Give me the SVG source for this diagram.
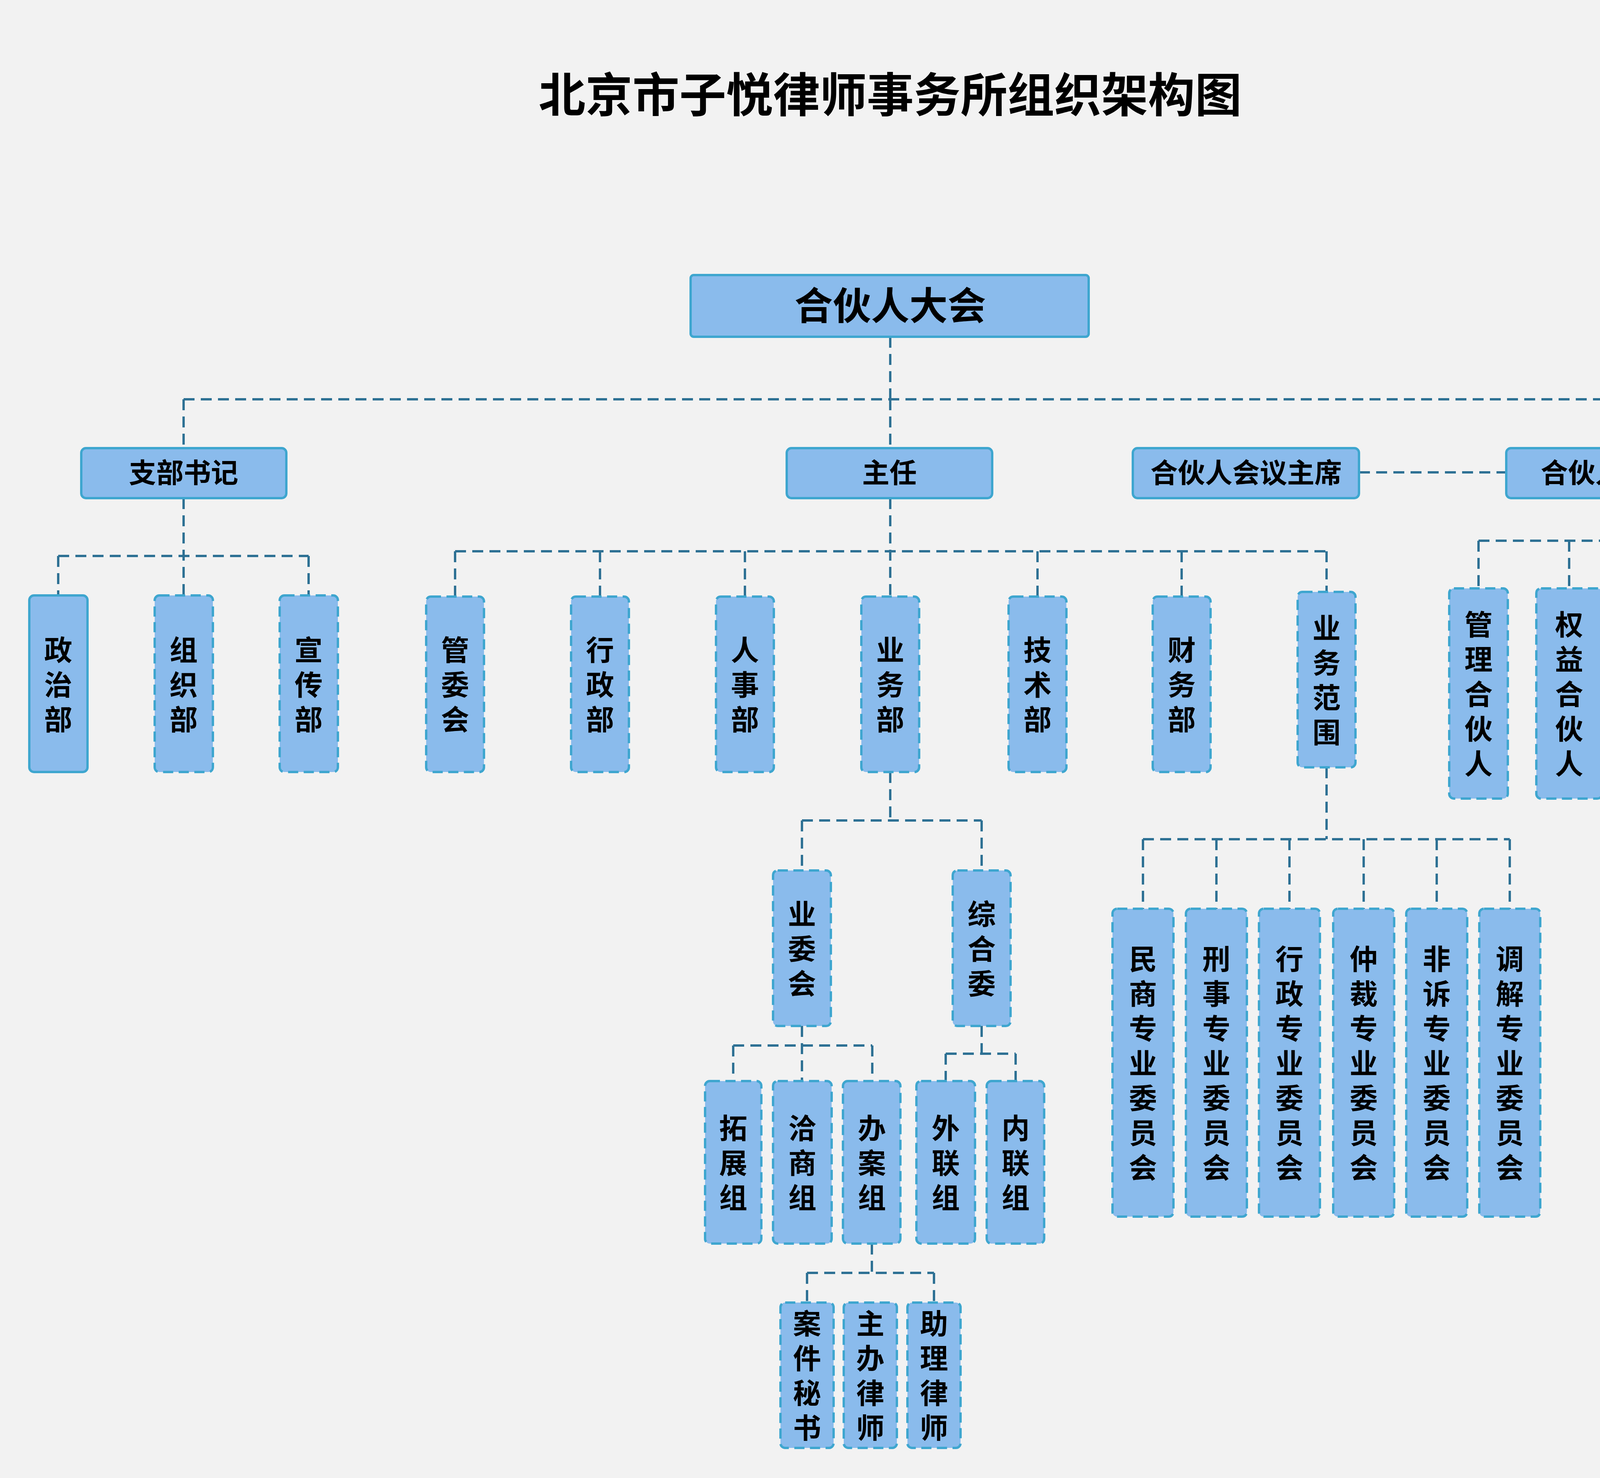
<svg xmlns="http://www.w3.org/2000/svg" width="4659" height="3783" viewBox="0 0 4659 3783">
<style>
.bx{fill:#8ABBEC;stroke:#3EA6CF;stroke-width:6}
.ds{stroke-dasharray:26 14}
.t{font-family:"Noto Sans CJK SC","Noto Sans",sans-serif;font-weight:700;fill:#000;text-anchor:middle}
.v{font-size:72px}
.h{font-size:70px}
.c{fill:none;stroke:#2E7194;stroke-width:6;stroke-dasharray:28 16}
</style>
<rect width="4659" height="3783" fill="#F2F2F2"/>
<text class="t" x="2279" y="287" font-size="120">北京市子悦律师事务所组织架构图</text>
<g id="connectors">
<path class="c" d="M2279 862V1022M470 1022H4118M470 1022V1147M2279 1022V1147M4118 1022V1147"/>
<path class="c" d="M3479 1209H3856"/>
<path class="c" d="M470 1275V1524M149 1423H790M149 1423V1524M790 1423V1524"/>
<path class="c" d="M2279 1275V1527M1165 1411H3396M1165 1411V1527M1536 1411V1527M1907 1411V1527M2656 1411V1527M3025 1411V1527M3396 1411V1515"/>
<path class="c" d="M4118 1275V1384M3785 1384H4501M3785 1384V1506M4017 1384V1506M4260 1384V1506M4501 1384V1506"/>
<path class="c" d="M2279 1976V2100M2053 2100H2513M2053 2100V2228M2513 2100V2228"/>
<path class="c" d="M2053 2626V2767M1877 2676H2233M1877 2676V2767M2233 2676V2767"/>
<path class="c" d="M2513 2626V2697M2421 2697H2600M2421 2697V2767M2600 2697V2767"/>
<path class="c" d="M2232 3183V3258M2066 3258H2391M2066 3258V3334M2391 3258V3334"/>
<path class="c" d="M3396 1964V2148M2926 2148H3865M2926 2148V2326M3114 2148V2326M3301 2148V2326M3491 2148V2326M3678 2148V2326M3865 2148V2326"/>
</g>
<g id="n_dahui"><rect class="bx" x="1768" y="704" width="1019" height="158" rx="8"/><text class="t" x="2279" y="818" font-size="98">合伙人大会</text></g>
<g id="n_zhibu"><rect class="bx" x="208" y="1147" width="525" height="128" rx="12"/><text class="t h" x="470" y="1236">支部书记</text></g>
<g id="n_zhuren"><rect class="bx" x="2014" y="1147" width="526" height="128" rx="12"/><text class="t h" x="2277" y="1236">主任</text></g>
<g id="n_zhuxi"><rect class="bx" x="2900" y="1147" width="579" height="128" rx="12"/><text class="t h" x="3190" y="1236">合伙人会议主席</text></g>
<g id="n_huiyi"><rect class="bx" x="3856" y="1147" width="526" height="128" rx="12"/><text class="t h" x="4119" y="1236">合伙人会议</text></g>

<g id="n_zhengzhi"><rect class="bx" x="75" y="1524" width="149" height="452" rx="12"/><text class="t v"><tspan x="149" y="1690">政</tspan><tspan x="149" y="1779">治</tspan><tspan x="149" y="1868">部</tspan></text></g>
<g id="n_zuzhi"><rect class="bx ds" x="396" y="1524" width="149" height="452" rx="12"/><text class="t v"><tspan x="470" y="1690">组</tspan><tspan x="470" y="1779">织</tspan><tspan x="470" y="1868">部</tspan></text></g>
<g id="n_xuanchuan"><rect class="bx ds" x="716" y="1524" width="149" height="452" rx="12"/><text class="t v"><tspan x="790" y="1690">宣</tspan><tspan x="790" y="1779">传</tspan><tspan x="790" y="1868">部</tspan></text></g>

<g id="n_guanwei"><rect class="bx ds" x="1091" y="1527" width="148" height="449" rx="12"/><text class="t v"><tspan x="1165" y="1690">管</tspan><tspan x="1165" y="1779">委</tspan><tspan x="1165" y="1868">会</tspan></text></g>
<g id="n_xingzheng"><rect class="bx ds" x="1462" y="1527" width="148" height="449" rx="12"/><text class="t v"><tspan x="1536" y="1690">行</tspan><tspan x="1536" y="1779">政</tspan><tspan x="1536" y="1868">部</tspan></text></g>
<g id="n_renshi"><rect class="bx ds" x="1833" y="1527" width="148" height="449" rx="12"/><text class="t v"><tspan x="1907" y="1690">人</tspan><tspan x="1907" y="1779">事</tspan><tspan x="1907" y="1868">部</tspan></text></g>
<g id="n_yewu"><rect class="bx ds" x="2205" y="1527" width="148" height="449" rx="12"/><text class="t v"><tspan x="2279" y="1690">业</tspan><tspan x="2279" y="1779">务</tspan><tspan x="2279" y="1868">部</tspan></text></g>
<g id="n_jishu"><rect class="bx ds" x="2582" y="1527" width="148" height="449" rx="12"/><text class="t v"><tspan x="2656" y="1690">技</tspan><tspan x="2656" y="1779">术</tspan><tspan x="2656" y="1868">部</tspan></text></g>
<g id="n_caiwu"><rect class="bx ds" x="2951" y="1527" width="148" height="449" rx="12"/><text class="t v"><tspan x="3025" y="1690">财</tspan><tspan x="3025" y="1779">务</tspan><tspan x="3025" y="1868">部</tspan></text></g>
<g id="n_fanwei"><rect class="bx ds" x="3322" y="1515" width="148" height="449" rx="12"/><text class="t v"><tspan x="3396" y="1634">业</tspan><tspan x="3396" y="1723">务</tspan><tspan x="3396" y="1812">范</tspan><tspan x="3396" y="1901">围</tspan></text></g>

<g id="n_guanli"><rect class="bx ds" x="3710" y="1506" width="150" height="538" rx="12"/><text class="t v"><tspan x="3785" y="1625">管</tspan><tspan x="3785" y="1714">理</tspan><tspan x="3785" y="1803">合</tspan><tspan x="3785" y="1892">伙</tspan><tspan x="3785" y="1981">人</tspan></text></g>
<g id="n_quanyi"><rect class="bx ds" x="3933" y="1506" width="168" height="538" rx="12"/><text class="t v"><tspan x="4017" y="1625">权</tspan><tspan x="4017" y="1714">益</tspan><tspan x="4017" y="1803">合</tspan><tspan x="4017" y="1892">伙</tspan><tspan x="4017" y="1981">人</tspan></text></g>
<g id="n_shiye"><rect class="bx ds" x="4175" y="1506" width="170" height="538" rx="12"/><text class="t v"><tspan x="4260" y="1625">事</tspan><tspan x="4260" y="1714">业</tspan><tspan x="4260" y="1803">合</tspan><tspan x="4260" y="1892">伙</tspan><tspan x="4260" y="1981">人</tspan></text></g>
<g id="n_putong"><rect class="bx ds" x="4419" y="1506" width="164" height="538" rx="12"/><text class="t v"><tspan x="4501" y="1625">普</tspan><tspan x="4501" y="1714">通</tspan><tspan x="4501" y="1803">合</tspan><tspan x="4501" y="1892">伙</tspan><tspan x="4501" y="1981">人</tspan></text></g>

<g id="n_yewei"><rect class="bx ds" x="1979" y="2228" width="148" height="398" rx="12"/><text class="t v"><tspan x="2053" y="2366">业</tspan><tspan x="2053" y="2455">委</tspan><tspan x="2053" y="2544">会</tspan></text></g>
<g id="n_zonghe"><rect class="bx ds" x="2439" y="2228" width="148" height="398" rx="12"/><text class="t v"><tspan x="2513" y="2366">综</tspan><tspan x="2513" y="2455">合</tspan><tspan x="2513" y="2544">委</tspan></text></g>

<g id="n_tuozhan"><rect class="bx ds" x="1805" y="2767" width="144" height="416" rx="12"/><text class="t v"><tspan x="1877" y="2914">拓</tspan><tspan x="1877" y="3003">展</tspan><tspan x="1877" y="3092">组</tspan></text></g>
<g id="n_qiashang"><rect class="bx ds" x="1979" y="2767" width="150" height="416" rx="12"/><text class="t v"><tspan x="2054" y="2914">洽</tspan><tspan x="2054" y="3003">商</tspan><tspan x="2054" y="3092">组</tspan></text></g>
<g id="n_banan"><rect class="bx ds" x="2158" y="2767" width="147" height="416" rx="12"/><text class="t v"><tspan x="2232" y="2914">办</tspan><tspan x="2232" y="3003">案</tspan><tspan x="2232" y="3092">组</tspan></text></g>
<g id="n_wailian"><rect class="bx ds" x="2346" y="2767" width="150" height="416" rx="12"/><text class="t v"><tspan x="2421" y="2914">外</tspan><tspan x="2421" y="3003">联</tspan><tspan x="2421" y="3092">组</tspan></text></g>
<g id="n_neilian"><rect class="bx ds" x="2526" y="2767" width="147" height="416" rx="12"/><text class="t v"><tspan x="2600" y="2914">内</tspan><tspan x="2600" y="3003">联</tspan><tspan x="2600" y="3092">组</tspan></text></g>

<g id="n_mishu"><rect class="bx ds" x="1998" y="3334" width="136" height="372" rx="12"/><text class="t v"><tspan x="2066" y="3414">案</tspan><tspan x="2066" y="3503">件</tspan><tspan x="2066" y="3592">秘</tspan><tspan x="2066" y="3681">书</tspan></text></g>
<g id="n_zhuban"><rect class="bx ds" x="2160" y="3334" width="136" height="372" rx="12"/><text class="t v"><tspan x="2228" y="3414">主</tspan><tspan x="2228" y="3503">办</tspan><tspan x="2228" y="3592">律</tspan><tspan x="2228" y="3681">师</tspan></text></g>
<g id="n_zhuli"><rect class="bx ds" x="2323" y="3334" width="136" height="372" rx="12"/><text class="t v"><tspan x="2391" y="3414">助</tspan><tspan x="2391" y="3503">理</tspan><tspan x="2391" y="3592">律</tspan><tspan x="2391" y="3681">师</tspan></text></g>

<g id="n_minshang"><rect class="bx ds" x="2848" y="2326" width="156" height="788" rx="12"/><text class="t v"><tspan x="2926" y="2481">民</tspan><tspan x="2926" y="2570">商</tspan><tspan x="2926" y="2659">专</tspan><tspan x="2926" y="2748">业</tspan><tspan x="2926" y="2837">委</tspan><tspan x="2926" y="2926">员</tspan><tspan x="2926" y="3015">会</tspan></text></g>
<g id="n_xingshi"><rect class="bx ds" x="3036" y="2326" width="156" height="788" rx="12"/><text class="t v"><tspan x="3114" y="2481">刑</tspan><tspan x="3114" y="2570">事</tspan><tspan x="3114" y="2659">专</tspan><tspan x="3114" y="2748">业</tspan><tspan x="3114" y="2837">委</tspan><tspan x="3114" y="2926">员</tspan><tspan x="3114" y="3015">会</tspan></text></g>
<g id="n_xingzhengwei"><rect class="bx ds" x="3223" y="2326" width="156" height="788" rx="12"/><text class="t v"><tspan x="3301" y="2481">行</tspan><tspan x="3301" y="2570">政</tspan><tspan x="3301" y="2659">专</tspan><tspan x="3301" y="2748">业</tspan><tspan x="3301" y="2837">委</tspan><tspan x="3301" y="2926">员</tspan><tspan x="3301" y="3015">会</tspan></text></g>
<g id="n_zhongcai"><rect class="bx ds" x="3413" y="2326" width="156" height="788" rx="12"/><text class="t v"><tspan x="3491" y="2481">仲</tspan><tspan x="3491" y="2570">裁</tspan><tspan x="3491" y="2659">专</tspan><tspan x="3491" y="2748">业</tspan><tspan x="3491" y="2837">委</tspan><tspan x="3491" y="2926">员</tspan><tspan x="3491" y="3015">会</tspan></text></g>
<g id="n_feisu"><rect class="bx ds" x="3600" y="2326" width="156" height="788" rx="12"/><text class="t v"><tspan x="3678" y="2481">非</tspan><tspan x="3678" y="2570">诉</tspan><tspan x="3678" y="2659">专</tspan><tspan x="3678" y="2748">业</tspan><tspan x="3678" y="2837">委</tspan><tspan x="3678" y="2926">员</tspan><tspan x="3678" y="3015">会</tspan></text></g>
<g id="n_tiaojie"><rect class="bx ds" x="3787" y="2326" width="156" height="788" rx="12"/><text class="t v"><tspan x="3865" y="2481">调</tspan><tspan x="3865" y="2570">解</tspan><tspan x="3865" y="2659">专</tspan><tspan x="3865" y="2748">业</tspan><tspan x="3865" y="2837">委</tspan><tspan x="3865" y="2926">员</tspan><tspan x="3865" y="3015">会</tspan></text></g>
</svg>
